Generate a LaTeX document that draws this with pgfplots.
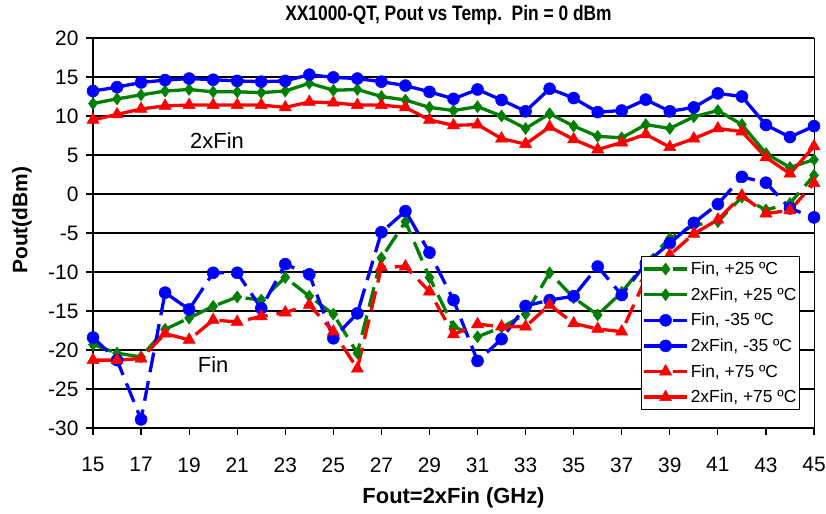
\documentclass[border=0pt]{standalone}
\usepackage{fontspec}
\setmainfont{Liberation Sans}
\usepackage{pgfplots}
\pgfplotsset{compat=1.18}
\definecolor{cgreen}{RGB}{0,128,0}
\definecolor{cblue}{RGB}{0,0,255}
\definecolor{cred}{RGB}{255,0,0}
\begin{document}
\begin{tikzpicture}
\path[use as bounding box] (0,0) rectangle (826bp,514bp);
\begin{axis}[
  at={(93bp,86bp)}, anchor=south west,
  scale only axis, width=721bp, height=390bp,
  xmin=15, xmax=45, ymin=-30, ymax=20,
  xtick={15,17,...,45}, ytick={-30,-25,...,20},
  xtick pos=left, ytick pos=left,
  tick align=outside, major tick length=7bp,
  tick style={black, line width=1.2bp},
  ymajorgrids, grid style={black, line width=1.3bp},
  axis line style={black, line width=1bp},
  clip=false,
  /pgf/number format/assume math mode=true,
  tick label style={font=\fontsize{21}{21}\selectfont},
  xticklabel style={yshift=-19bp},
  yticklabel style={xshift=-4bp},
  legend style={at={(rel axis cs:0.760,0.441)}, anchor=north west, draw=black, line width=1bp, fill=white,
    font=\fontsize{17.5}{19}\selectfont, cells={anchor=west}, row sep=7.5bp, inner xsep=1bp, inner ysep=3.5bp},
  legend image code/.code={\draw[mark repeat=2,mark phase=2] plot coordinates {(0bp,0bp) (21.5bp,0bp) (43bp,0bp)};},
  every axis plot/.append style={line width=3.3bp},
]
\addplot[cgreen, dash pattern=on 20bp off 9bp, mark=diamond*, mark size=6bp, mark options={solid, line width=0.5bp}] coordinates {
(15,-19.3) (16,-20.4) (17,-20.9) (18,-17.35) (19,-15.9) (20,-14.4) (21,-13.2) (22,-13.6) (23,-10.7) (24,-13.1)
(25,-15.4) (26,-20.4) (27,-8.2) (28,-3.55) (29,-10.7) (30,-17.0) (31,-18.3) (32,-17.1) (33,-15.4) (34,-10.1)
(35,-13.3) (36,-15.5) (37,-12.6) (38,-8.8) (39,-5.7) (40,-4.0) (41,-3.55) (42,-0.4) (43,-2.05) (44,-1.2) (45,2.4)};
\addlegendentry{Fin, +25 ºC}
\addplot[cgreen, mark=diamond*, mark size=6bp, mark options={line width=0.5bp}] coordinates {
(15,11.6) (16,12.2) (17,12.7) (18,13.2) (19,13.4) (20,13.1) (21,13.1) (22,13.0) (23,13.2) (24,14.2)
(25,13.3) (26,13.4) (27,12.5) (28,12.05) (29,11.1) (30,10.7) (31,11.2) (32,10.0) (33,8.4) (34,10.3)
(35,8.7) (36,7.4) (37,7.2) (38,8.9) (39,8.4) (40,9.9) (41,10.7) (42,8.9) (43,5.2) (44,3.4) (45,4.4)};
\addlegendentry{2xFin, +25 ºC}
\addplot[cblue, dash pattern=on 20bp off 9bp, mark=*, mark size=6bp, mark options={solid, line width=0.5bp}] coordinates {
(15,-18.4) (16,-21.3) (17,-28.9) (18,-12.65) (19,-14.8) (20,-10.1) (21,-10.1) (22,-14.65) (23,-9.0) (24,-10.3)
(25,-18.5) (26,-15.3) (27,-4.9) (28,-2.2) (29,-7.5) (30,-13.6) (31,-21.4) (32,-18.6) (33,-14.35) (34,-13.6)
(35,-13.1) (36,-9.3) (37,-12.95) (38,-8.9) (39,-6.3) (40,-3.7) (41,-1.3) (42,2.2) (43,1.45) (44,-1.85) (45,-3.0)};
\addlegendentry{Fin, -35 ºC}
\addplot[cblue, mark=*, mark size=6bp, mark options={line width=0.5bp}] coordinates {
(15,13.2) (16,13.7) (17,14.3) (18,14.6) (19,14.8) (20,14.65) (21,14.5) (22,14.4) (23,14.5) (24,15.3)
(25,14.95) (26,14.8) (27,14.4) (28,13.9) (29,13.1) (30,12.2) (31,13.4) (32,12.05) (33,10.6) (34,13.5)
(35,12.3) (36,10.5) (37,10.7) (38,12.1) (39,10.6) (40,11.1) (41,12.9) (42,12.5) (43,8.85) (44,7.3) (45,8.7)};
\addlegendentry{2xFin, -35 ºC}
\addplot[cred, dash pattern=on 20bp off 9bp, mark=triangle*, mark size=7bp, mark options={solid, line width=0.5bp}] coordinates {
(15,-21.3) (16,-21.3) (17,-21.1) (18,-17.9) (19,-18.7) (20,-16.15) (21,-16.4) (22,-15.7) (23,-15.2) (24,-14.2)
(25,-17.65) (26,-22.4) (27,-9.4) (28,-9.3) (29,-12.5) (30,-18.0) (31,-16.7) (32,-17.0) (33,-17.0) (34,-14.2)
(35,-16.6) (36,-17.3) (37,-17.65) (38,-10.8) (39,-7.8) (40,-5.1) (41,-3.3) (42,-0.2) (43,-2.5) (44,-2.1) (45,1.4)};
\addlegendentry{Fin, +75 ºC}
\addplot[cred, mark=triangle*, mark size=7bp, mark options={line width=0.5bp}] coordinates {
(15,9.5) (16,10.2) (17,10.9) (18,11.3) (19,11.4) (20,11.4) (21,11.4) (22,11.4) (23,11.1) (24,11.8)
(25,11.7) (26,11.4) (27,11.4) (28,11.1) (29,9.5) (30,8.8) (31,8.9) (32,7.1) (33,6.4) (34,8.6)
(35,7.0) (36,5.7) (37,6.6) (38,7.65) (39,6.0) (40,7.1) (41,8.4) (42,8.0) (43,4.7) (44,2.6) (45,6.1)};
\addlegendentry{2xFin, +75 ºC}
\draw[black, line width=2.2bp] (rel axis cs:0,1) -- (rel axis cs:0,0) -- (rel axis cs:1,0);
\node[font=\fontsize{22}{22}\selectfont] at (axis cs:20.16,6.9) {2xFin};
\node[font=\fontsize{22}{22}\selectfont] at (axis cs:20.0,-21.9) {Fin};
\node[font=\fontsize{21}{21}\selectfont\bfseries, anchor=center, xscale=0.83] at (axis description cs:0.493,1.059) {XX1000-QT, Pout vs Temp.\ \ Pin = 0 dBm};
\node[font=\fontsize{22}{22}\selectfont\bfseries, anchor=center] at (axis description cs:0.5,-0.18) {Fout=2xFin (GHz)};
\node[font=\fontsize{21}{21}\selectfont\bfseries, anchor=center, rotate=90] at (axis description cs:-0.0985,0.533) {Pout(dBm)};
\end{axis}
\end{tikzpicture}
\end{document}
